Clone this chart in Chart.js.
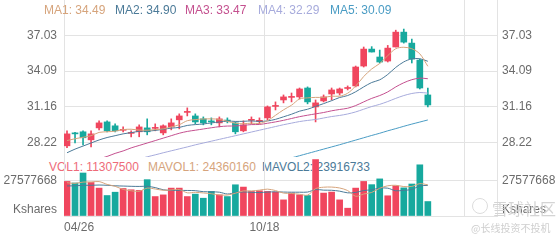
<!DOCTYPE html>
<html><head><meta charset="utf-8">
<script src="https://cdn.jsdelivr.net/npm/chart.js@4.4.1/dist/chart.umd.min.js"></script>
<style>
html,body{margin:0;padding:0;background:#fff;}
#wrap{position:relative;width:560px;height:240px;overflow:hidden;font-family:"Liberation Sans",Arial,sans-serif;}
canvas{position:absolute;left:0;}
#cPrice{top:0;z-index:1;}
#cVol{top:157px;z-index:3;}
.lg{position:absolute;font-size:12px;line-height:14px;white-space:nowrap;z-index:2;}
.wm{position:absolute;white-space:nowrap;color:#d4d4d4;font-family:"Noto Sans CJK SC",sans-serif;z-index:5;}
#logo{position:absolute;left:472px;top:198px;width:14px;height:14px;border:1.5px solid #dcdcdc;border-radius:50%;z-index:5;}
</style></head>
<body>
<div id="wrap">
<canvas id="cPrice" width="560" height="157"></canvas>
<canvas id="cVol" width="560" height="83"></canvas>
<span class="lg" id="lgMA1" style="left:44px;top:3px;color:#d6a47c"></span>
<span class="lg" id="lgMA2" style="left:115px;top:3px;color:#4b7a98"></span>
<span class="lg" id="lgMA3" style="left:185px;top:3px;color:#c4508f"></span>
<span class="lg" id="lgMA4" style="left:258px;top:3px;color:#a7abdc"></span>
<span class="lg" id="lgMA5" style="left:330px;top:3px;color:#4a9cc4"></span>
<span class="lg" id="lgVOL" style="left:49px;top:160px;color:#ee6b79"></span>
<span class="lg" id="lgMV1" style="left:148px;top:160px;color:#d6a47c"></span>
<span class="lg" id="lgMV2" style="left:262px;top:160px;color:#4b7a98"></span>
<div id="logo"></div>
<span class="wm" style="left:492px;top:199px;font-size:16px;line-height:18px;">雪球社区</span>
<span class="wm" style="left:471px;top:221px;font-size:10px;line-height:14px;color:#cfcfcf;">@长线投资不投机</span>
</div>
<script>
const dates = ['04/26','05/03','05/10','05/17','05/24','05/31','06/07','06/14','06/21','06/28',
  '07/05','07/12','07/19','07/26','08/02','08/09','08/16','08/23','08/30','09/06',
  '09/13','09/20','09/27','10/04','10/11','10/18','10/25','11/01','11/08','11/15',
  '11/22','11/29','12/06','12/13','12/20','12/27','01/03','01/10','01/17','01/24',
  '01/31','02/07','02/14','02/21','02/28','03/06'];

const opens  = [27.97,29.03,29.12,28.46,29.44,29.93,29.61,29.24,28.99,29.12,29.44,29.40,29.03,29.52,30.10,30.71,30.42,30.18,29.97,29.85,30.06,29.85,29.20,30.06,29.97,30.26,31.20,31.73,31.94,31.98,32.71,31.16,31.65,32.22,32.30,32.67,32.88,34.51,35.90,35.25,34.92,36.07,37.29,36.39,35.00,32.14];
const highs  = [29.20,29.08,29.20,29.20,30.02,30.02,29.77,29.52,29.20,29.69,30.18,29.77,29.69,30.18,30.59,31.08,30.59,30.34,30.26,30.34,30.26,29.93,30.02,30.34,30.26,31.24,31.57,32.14,32.30,32.71,32.80,31.73,32.14,32.71,32.71,32.88,34.51,36.07,36.10,35.82,36.20,37.45,37.54,36.72,35.08,32.71];
const lows   = [27.81,28.20,28.05,27.89,29.28,29.12,29.12,29.12,28.71,28.71,28.87,29.20,28.87,29.28,29.36,30.42,29.77,29.69,29.69,29.52,29.85,28.95,29.12,29.77,29.77,30.10,30.91,31.49,31.57,31.81,31.41,29.93,31.57,31.73,32.14,32.55,32.80,34.43,35.66,34.76,34.84,36.07,36.39,34.76,32.63,31.16];
const closes = [28.95,28.95,28.63,28.95,29.85,29.20,29.20,29.32,29.07,29.52,29.12,29.48,29.61,29.85,30.42,30.79,29.93,29.85,29.93,30.18,30.00,29.12,29.69,30.14,30.06,31.16,31.28,31.98,32.02,32.63,31.57,31.49,31.98,32.55,32.63,32.75,34.43,35.90,35.66,34.84,35.98,37.29,36.47,35.08,32.71,31.32];

const ma1 = [28.40,28.55,28.67,28.80,29.07,29.12,29.17,29.30,29.33,29.26,29.25,29.30,29.36,29.52,29.70,30.03,30.12,30.17,30.18,30.14,29.98,29.82,29.78,29.83,29.80,30.03,30.47,30.92,31.30,31.81,31.90,31.94,31.94,32.04,32.04,32.28,32.87,33.65,34.27,34.72,35.36,35.93,36.05,35.93,35.51,34.49];
const ma2 = [27.40,27.70,27.95,28.20,28.45,28.65,28.80,28.95,29.05,29.16,29.18,29.23,29.33,29.42,29.48,29.64,29.71,29.76,29.85,29.92,30.00,29.97,29.98,30.01,29.97,30.01,30.14,30.35,30.56,30.81,30.97,31.20,31.43,31.67,31.93,32.09,32.40,32.80,33.16,33.38,33.82,34.40,34.85,35.10,35.11,34.90];
const ma3 = [null,null,null,26.65,26.90,27.10,27.35,27.55,27.80,28.00,28.20,28.40,28.60,28.80,29.00,29.15,29.25,29.35,29.45,29.54,29.59,29.60,29.65,29.71,29.72,29.82,29.93,30.06,30.21,30.36,30.48,30.59,30.70,30.84,30.95,31.05,31.27,31.57,31.86,32.09,32.39,32.80,33.14,33.39,33.52,33.47];
const ma4 = [null,null,null,null,null,null,null,null,26.75,26.90,27.07,27.23,27.40,27.56,27.72,27.88,28.05,28.20,28.35,28.50,28.65,28.80,28.95,29.10,29.25,29.40,29.55,29.70,29.83,29.96,30.05,30.13,30.25,30.37,30.46,30.58,30.75,30.97,31.19,31.37,31.60,31.86,32.09,32.26,32.34,32.29];
const ma5 = [null,null,null,null,null,null,null,null,null,null,null,null,null,null,null,null,null,null,null,null,null,null,25.93,26.10,26.28,26.45,26.62,26.80,26.98,27.16,27.34,27.52,27.70,27.88,28.06,28.25,28.44,28.63,28.82,29.00,29.20,29.38,29.57,29.75,29.92,30.09];

const volumes = [27000000,25800000,33600000,26200000,21800000,16000000,18600000,21500000,20500000,20000000,28400000,15200000,16500000,21800000,21800000,15200000,17100000,13900000,19200000,16500000,15200000,24400000,22600000,19200000,19700000,19200000,18700000,12600000,17900000,16500000,16000000,44100000,17900000,18700000,12600000,6100000,21800000,27000000,24500000,29000000,15800000,23500000,22000000,25000000,40000000,11307500];
const mavol1 = [26000000,25500000,26500000,26600000,26900000,24700000,23200000,20800000,19700000,19300000,21800000,21100000,20100000,20400000,20700000,18100000,18500000,18000000,17400000,16400000,16400000,17800000,19600000,19600000,20200000,21000000,19900000,17900000,17600000,17000000,16300000,21400000,22500000,22600000,21900000,19900000,15400000,17200000,18400000,21700000,23600000,24000000,23000000,23100000,25300000,24360160];
const mavol2 = [23500000,23600000,24000000,24000000,24200000,24000000,23600000,23400000,23200000,23100000,23200000,22200000,20500000,20000000,20000000,19950000,19800000,19000000,18900000,18600000,17200000,18200000,18800000,18500000,18300000,18700000,18900000,18700000,18600000,18600000,18700000,20650000,20200000,20100000,19400000,18100000,18400000,19900000,20500000,21800000,21750000,19700000,20100000,20700000,23500000,23916733];

const priceTicks = [28.22, 31.16, 34.09, 37.03];
const volTick = 27577668;
const labelIdx = [0, 25];

// layout constants
const X_MIN = -0.375, X_MAX = 53.625;
const gridX = [-0.375, 24.625, 49.625, 53.625];
const P_MIN = 27.054, P_MAX = 39.923;
const V_MAX = 46100000, KS_POS = 4690000;
const RED = '#f0465e', TEAL = '#17a99e', GRID = '#e3e3e3';

Chart.defaults.font.family = '"Liberation Sans", Arial, sans-serif';
Chart.defaults.font.size = 12;
Chart.defaults.color = '#6b6b6b';

const last = a => a[a.length - 1];
document.getElementById('lgMA1').textContent = 'MA1: ' + last(ma1).toFixed(2);
document.getElementById('lgMA2').textContent = 'MA2: ' + last(ma2).toFixed(2);
document.getElementById('lgMA3').textContent = 'MA3: ' + last(ma3).toFixed(2);
document.getElementById('lgMA4').textContent = 'MA4: ' + last(ma4).toFixed(2);
document.getElementById('lgMA5').textContent = 'MA5: ' + last(ma5).toFixed(2);
document.getElementById('lgVOL').textContent = 'VOL1: ' + last(volumes);
document.getElementById('lgMV1').textContent = 'MAVOL1: ' + last(mavol1);
document.getElementById('lgMV2').textContent = 'MAVOL2: ' + last(mavol2);

const idx = closes.map((_, i) => i);
const colors = idx.map(i => closes[i] >= opens[i] ? RED : TEAL);
const pts = arr => arr.map((v, i) => ({x: i, y: v}));

function noPad(s) { s.paddingTop = 0; s.paddingBottom = 0; s.paddingLeft = 0; s.paddingRight = 0; }

function lineDs(label, arr, color) {
  return {type: 'line', label, data: pts(arr), borderColor: color, borderWidth: 1,
    pointRadius: 0, tension: 0.3, fill: false, order: 0, yAxisID: 'y', spanGaps: false};
}

new Chart(document.getElementById('cPrice'), {
  type: 'bar',
  data: {
    datasets: [
      lineDs('MA1', ma1, '#d6a47c'),
      lineDs('MA2', ma2, '#4b7a98'),
      lineDs('MA3', ma3, '#c4508f'),
      lineDs('MA4', ma4, '#a7abdc'),
      lineDs('MA5', ma5, '#4a9cc4'),
      {label: 'body', data: idx.map(i => ({x: i, y: [opens[i], closes[i]]})),
        backgroundColor: colors, barThickness: 6, minBarLength: 1, grouped: false, order: 1, yAxisID: 'y'},
      {label: 'wick', data: idx.map(i => ({x: i, y: [lows[i], highs[i]]})),
        backgroundColor: colors, barThickness: 1, grouped: false, order: 2, yAxisID: 'y'}
    ]
  },
  options: {
    responsive: false, animation: false, devicePixelRatio: 1,
    layout: {padding: 0},
    plugins: {legend: {display: false}, tooltip: {enabled: false}},
    scales: {
      x: {
        type: 'linear', min: X_MIN, max: X_MAX, offset: false,
        grid: {color: GRID, drawTicks: false, offset: false},
        border: {display: false},
        ticks: {display: false},
        afterBuildTicks: s => { s.ticks = gridX.map(v => ({value: v})); },
        afterFit: s => { s.height = 0; noPad(s); }
      },
      y: {
        type: 'linear', position: 'left', min: P_MIN, max: P_MAX,
        grid: {color: GRID, drawTicks: false}, border: {display: false},
        ticks: {padding: 7, callback: v => v.toFixed(2)},
        afterBuildTicks: s => { s.ticks = priceTicks.map(v => ({value: v})); },
        afterFit: s => { s.width = 64; noPad(s); }
      },
      yr: {
        type: 'linear', position: 'right', min: P_MIN, max: P_MAX,
        grid: {display: false, drawTicks: false}, border: {display: false},
        ticks: {padding: 5, callback: v => v.toFixed(2)},
        afterBuildTicks: s => { s.ticks = priceTicks.map(v => ({value: v})); },
        afterFit: s => { s.width = 63; noPad(s); }
      }
    }
  }
});

const labelPos = [1.5, 24.625];
const volTickLabel = v => v === volTick ? String(volTick) : (v === KS_POS ? 'Kshares' : '');

new Chart(document.getElementById('cVol'), {
  type: 'bar',
  data: {
    datasets: [
      {type: 'line', label: 'MAVOL1', data: pts(mavol1), borderColor: '#d6a47c', borderWidth: 1, pointRadius: 0, tension: 0.3, order: 0},
      {type: 'line', label: 'MAVOL2', data: pts(mavol2), borderColor: '#4b7a98', borderWidth: 1, pointRadius: 0, tension: 0.3, order: 0},
      {label: 'VOL', data: pts(volumes), backgroundColor: colors, barThickness: 6, grouped: false, order: 1}
    ]
  },
  options: {
    responsive: false, animation: false, devicePixelRatio: 1,
    layout: {padding: 0},
    plugins: {legend: {display: false}, tooltip: {enabled: false}},
    scales: {
      x: {
        type: 'linear', min: X_MIN, max: X_MAX, offset: false,
        grid: {drawTicks: false, offset: false,
          color: c => (c.tick && c.tick.value === labelPos[0]) ? 'rgba(0,0,0,0)' : GRID},
        border: {display: true, color: GRID},
        ticks: {padding: 4, autoSkip: false, maxRotation: 0, color: '#6b6b6b',
          callback: v => { const k = labelPos.indexOf(v); return k >= 0 ? dates[labelIdx[k]] : ''; }},
        afterBuildTicks: s => {
          s.ticks = [gridX[0], labelPos[0], gridX[1], gridX[2], gridX[3]].map(v => ({value: v}));
        },
        afterFit: s => { s.height = 24; noPad(s); }
      },
      y: {
        type: 'linear', position: 'left', min: 0, max: V_MAX,
        grid: {drawTicks: false, color: c => (c.tick && c.tick.value === KS_POS) ? 'rgba(0,0,0,0)' : GRID},
        border: {display: false},
        ticks: {padding: 7, autoSkip: false, callback: volTickLabel},
        afterBuildTicks: s => { s.ticks = [0, KS_POS, volTick].map(v => ({value: v})); },
        afterFit: s => { s.width = 64; noPad(s); }
      },
      yr: {
        type: 'linear', position: 'right', min: 0, max: V_MAX,
        grid: {display: false, drawTicks: false}, border: {display: false},
        ticks: {padding: 5, autoSkip: false, callback: volTickLabel},
        afterBuildTicks: s => { s.ticks = [0, KS_POS, volTick].map(v => ({value: v})); },
        afterFit: s => { s.width = 63; noPad(s); }
      }
    }
  }
});
</script>
</body></html>
